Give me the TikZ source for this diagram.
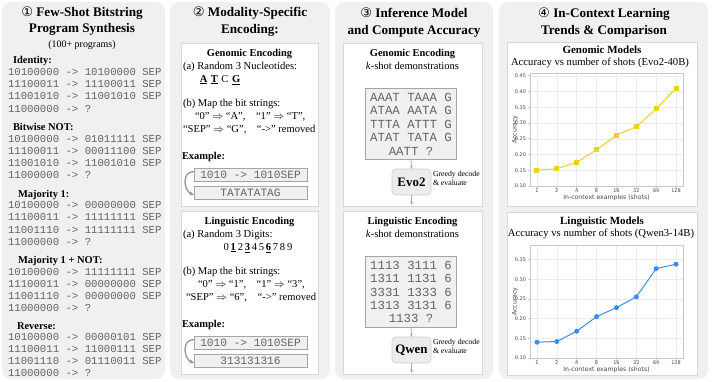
\documentclass[tikz,border=0pt]{standalone}
\usepackage{fontspec}
\setmainfont{Liberation Serif}
\newfontfamily\monof{Liberation Mono}
\newfontfamily\sansf{DejaVu Sans}
\newfontfamily\circf{DejaVu Sans}
\usetikzlibrary{arrows.meta}
\definecolor{panelgray}{RGB}{240,240,240}
\definecolor{boxline}{RGB}{216,216,216}
\definecolor{monofill}{RGB}{240,240,240}
\definecolor{monoline}{RGB}{165,165,165}
\definecolor{monotext}{RGB}{100,100,100}
\definecolor{arrowgray}{RGB}{170,170,170}
\definecolor{curvegray}{RGB}{150,150,150}
\definecolor{gridgray}{RGB}{236,236,236}
\definecolor{framegray}{RGB}{200,200,200}
\definecolor{genyellow}{RGB}{240,205,40}
\definecolor{lingblue}{RGB}{60,140,230}
\definecolor{modelfill}{RGB}{236,236,236}
\definecolor{modelline}{RGB}{205,205,205}
\definecolor{ticktext}{RGB}{70,70,70}
\newcommand\ulb[1]{\underline{\textbf{#1}}}
\begin{document}
\begin{tikzpicture}[x=1bp,y=-1bp,
  every node/.style={inner sep=0pt, outer sep=0pt},
  panel/.style={fill=panelgray, rounded corners=9bp},
  wbox/.style={fill=white, draw=boxline, line width=0.8bp},
  ttl/.style={font=\fontsize{13.2}{15}\selectfont\bfseries},
  hdr/.style={font=\fontsize{10.5}{12}\selectfont\bfseries, text height=7bp, text depth=0pt},
  body/.style={font=\fontsize{10.6}{12}\selectfont, text height=6.5bp, text depth=0pt},
  mono/.style={font=\monof\fontsize{10.7}{12}\selectfont, text=monotext, text height=6.4bp, text depth=0pt},
  exbox/.style={draw=monoline, fill=monofill, line width=0.6bp, minimum width=113bp, minimum height=13bp, font=\monof\fontsize{11.2}{12}\selectfont, text=monotext},
  demobox/.style={draw=monoline, fill=monofill, line width=0.6bp, minimum width=91bp, minimum height=71bp, align=center, font=\monof\fontsize{12.4}{13.5}\selectfont, text=monotext},
  model/.style={draw=modelline, fill=modelfill, line width=0.6bp, rounded corners=4bp, minimum width=39bp, minimum height=26bp, font=\fontsize{13}{14}\selectfont\bfseries},
  smalltxt/.style={font=\fontsize{7.8}{9}\selectfont, align=left},
  flow/.style={draw=arrowgray, line width=0.8bp, -{Stealth[length=3.5bp,width=3bp]}},
  curv/.style={draw=curvegray, line width=1.3bp, -{Stealth[length=5bp,width=4.5bp]}},
  gridl/.style={draw=gridgray, line width=0.5bp},
  frm/.style={draw=framegray, line width=0.7bp},
  ytick/.style={font=\sansf\fontsize{5}{6}\selectfont, text=ticktext, anchor=east},
  xtick/.style={font=\sansf\fontsize{5}{6}\selectfont, text=ticktext, anchor=north},
  axlab/.style={font=\sansf\fontsize{6.2}{7}\selectfont, text=ticktext},
  gmark/.style={fill=genyellow, minimum size=5bp, rectangle},
  lmark/.style={fill=lingblue, minimum size=5bp, circle},
]
\useasboundingbox (0,0) rectangle (718,381);

% ---------- panels ----------
\fill[panel] (2,2) rectangle (165,379);
\fill[panel] (170,2) rectangle (330,379);
\fill[panel] (335,2) rectangle (493,379);
\fill[panel] (499,2) rectangle (708,379);

% ---------- panel 1 ----------
\node[ttl] (t1a) at (82,13) {{\circf\mdseries ①} Few-Shot Bitstring};
\node[ttl] (t1b) at (82,29.5) {Program Synthesis};
\node[font=\fontsize{10}{12}\selectfont] (t1c) at (82,45) {(100+ programs)};

\node[hdr,anchor=west] (h1) at (13,59.5) {Identity:};
\node[mono,anchor=west] (r11) at (8,72) {10100000 -> 10100000 SEP};
\node[mono,anchor=west] (r12) at (8,84.3) {11100011 -> 11100011 SEP};
\node[mono,anchor=west] (r13) at (8,96.6) {11001010 -> 11001010 SEP};
\node[mono,anchor=west] (r14) at (8,108.9) {11000000 -> ?};

\node[hdr,anchor=west] (h2) at (13,126.5) {Bitwise NOT:};
\node[mono,anchor=west] (r21) at (8,139) {10100000 -> 01011111 SEP};
\node[mono,anchor=west] (r22) at (8,151.2) {11100011 -> 00011100 SEP};
\node[mono,anchor=west] (r23) at (8,163.4) {11001010 -> 11001010 SEP};
\node[mono,anchor=west] (r24) at (8,175.6) {11000000 -> ?};

\node[hdr,anchor=west] (h3) at (18,193.5) {Majority 1:};
\node[mono,anchor=west] (r31) at (8,205.5) {10100000 -> 00000000 SEP};
\node[mono,anchor=west] (r32) at (8,217.7) {11100011 -> 11111111 SEP};
\node[mono,anchor=west] (r33) at (8,229.9) {11001110 -> 11111111 SEP};
\node[mono,anchor=west] (r34) at (8,242.1) {11000000 -> ?};

\node[hdr,anchor=west] (h4) at (18,260) {Majority 1 + NOT:};
\node[mono,anchor=west] (r41) at (8,272) {10100000 -> 11111111 SEP};
\node[mono,anchor=west] (r42) at (8,284.2) {11100011 -> 00000000 SEP};
\node[mono,anchor=west] (r43) at (8,296.4) {11001110 -> 00000000 SEP};
\node[mono,anchor=west] (r44) at (8,308.6) {11000000 -> ?};

\node[hdr,anchor=west] (h5) at (17,325.5) {Reverse:};
\node[mono,anchor=west] (r51) at (8,337.5) {10100000 -> 00000101 SEP};
\node[mono,anchor=west] (r52) at (8,349.4) {11100011 -> 11000111 SEP};
\node[mono,anchor=west] (r53) at (8,361.3) {11001110 -> 01110011 SEP};
\node[mono,anchor=west] (r54) at (8,373.2) {11000000 -> ?};

% ---------- panel 2 ----------
\node[ttl] (t2a) at (250,13) {{\circf\mdseries ②} Modality-Specific};
\node[ttl] (t2b) at (250,30) {Encoding:};

\draw[wbox] (181,43) rectangle (318,206);
\draw[wbox] (181,211) rectangle (318,374);

\node[hdr] (g2t) at (249.5,53) {Genomic Encoding};
\node[body,anchor=west] (g2a) at (183,66) {(a) Random 3 Nucleotides:};
\node[body] (g2n) at (220,79) {\ulb{A}\,\,\ulb{T}\,\,C\,\,\ulb{G}};
\node[body,anchor=west] (g2b) at (183,103) {(b) Map the bit strings:};
\node[body,anchor=west] (g2c) at (195,116) {“0” $\Rightarrow$ “A”,\quad “1” $\Rightarrow$ “T”,};
\node[body,anchor=west] (g2d) at (183,129) {“SEP” $\Rightarrow$ “G”,\quad “->” removed};
\node[hdr,anchor=west] (g2e) at (182,156) {Example:};
\node[exbox] (ge1) at (250.5,174.5) {1010 -> 1010SEP};
\node[exbox] (ge2) at (250.5,193) {TATATATAG};
\draw[curv] ([yshift=3bp]ge1.west) .. controls +(-13,0) and +(-10,-4) .. ([yshift=-2bp]ge2.west);

\node[hdr] (l2t) at (249.5,221) {Linguistic Encoding};
\node[body,anchor=west] (l2a) at (183,234) {(a) Random 3 Digits:};
\node[body] (l2n) at (258,247) {0\,\ulb{1}\,2\,\ulb{3}\,4\,5\,\ulb{6}\,7\,8\,9};
\node[body,anchor=west] (l2b) at (183,271) {(b) Map the bit strings:};
\node[body,anchor=west] (l2c) at (198,284) {“0” $\Rightarrow$ “1”,\quad “1” $\Rightarrow$ “3”,};
\node[body,anchor=west] (l2d) at (186,297) {“SEP” $\Rightarrow$ “6”,\quad “->” removed};
\node[hdr,anchor=west] (l2e) at (182,324) {Example:};
\node[exbox] (le1) at (250.5,342.5) {1010 -> 1010SEP};
\node[exbox] (le2) at (250.5,361) {313131316};
\draw[curv] ([yshift=3bp]le1.west) .. controls +(-13,0) and +(-10,-4) .. ([yshift=-2bp]le2.west);

% ---------- panel 3 ----------
\node[ttl] (t3a) at (414,13) {{\circf\mdseries ③} Inference Model};
\node[ttl] (t3b) at (414,31) {and Compute Accuracy};

\draw[wbox] (343,43) rectangle (482,206);
\draw[wbox] (343,211) rectangle (482,374);

\node[hdr] (g3t) at (412.5,53) {Genomic Encoding};
\node[body] (g3k) at (412.5,66) {\textit{k}-shot demonstrations};
\node[demobox] (gdemo) at (411,124) {AAAT TAAA G\\ATAA AATA G\\TTTA ATTT G\\ATAT TATA G\\AATT ?};
\node[model] (evo) at (411.5,182) {Evo2};
\node[smalltxt,anchor=west] (gnote) at (433,178) {Greedy decode\\\& evaluate};
\coordinate (gend) at (411.5,205);
\draw[flow] (gdemo.south) -- (evo.north);
\draw[flow] (evo.south) -- (gend);

\node[hdr] (l3t) at (412.5,221) {Linguistic Encoding};
\node[body] (l3k) at (412.5,234) {\textit{k}-shot demonstrations};
\node[demobox] (ldemo) at (411,292) {1113 3111 6\\1311 1131 6\\3331 1333 6\\1313 3131 6\\1133 ?};
\node[model] (qwen) at (411.5,350) {Qwen};
\node[smalltxt,anchor=west] (lnote) at (433,346) {Greedy decode\\\& evaluate};
\coordinate (lend) at (411.5,373);
\draw[flow] (ldemo.south) -- (qwen.north);
\draw[flow] (qwen.south) -- (lend);

% ---------- panel 4 ----------
\node[ttl] (t4a) at (604,14) {{\circf\mdseries ④} In-Context Learning};
\node[ttl] (t4b) at (604,31) {Trends \& Comparison};

\draw[wbox] (507,42) rectangle (697,206);
\draw[wbox] (507,212) rectangle (697,375);

\node[font=\fontsize{11}{12}\selectfont\bfseries] (g4t) at (602,50) {Genomic Models};
\node[font=\fontsize{10.7}{12}\selectfont] (g4s) at (600,63) {Accuracy vs number of shots (Evo2-40B)};
\node[font=\fontsize{11}{12}\selectfont\bfseries] (l4t) at (602,222) {Linguistic Models};
\node[font=\fontsize{10.7}{12}\selectfont] (l4s) at (601,234) {Accuracy vs number of shots (Qwen3-14B)};

% grids
\foreach \x in {536.95,556.82,576.69,596.56,616.43,636.30,656.17,676.04} {
  \draw[gridl] (\x,73) -- (\x,186);
  \draw[gridl] (\x,245) -- (\x,358);
  \draw[frm] (\x,186) -- (\x,188.5);
  \draw[frm] (\x,358) -- (\x,360.5);
}
\foreach \y in {170.25,154.5,138.75,123,107.25,91.5,75.75} \draw[gridl] (530,\y) -- (683,\y);
\foreach \y in {338.3,318.6,298.9,279.2,259.5} \draw[gridl] (530,\y) -- (683,\y);
\draw[frm] (530,73) rectangle (683,186);
\draw[frm] (530,245) rectangle (683,358);

% y ticks
\foreach \v/\y [count=\i] in {0.10/186,0.15/170.25,0.20/154.5,0.25/138.75,0.30/123,0.35/107.25,0.40/91.5,0.45/75.75} {
  \draw[frm] (527.5,\y) -- (530,\y);
  \node[ytick] (gy\i) at (526,\y) {\v};
}
\foreach \v/\y [count=\i] in {0.10/358,0.15/338.3,0.20/318.6,0.25/298.9,0.30/279.2,0.35/259.5} {
  \draw[frm] (527.5,\y) -- (530,\y);
  \node[ytick] (ly\i) at (526,\y) {\v};
}
% x ticks
\foreach \x/\l [count=\i] in {536.95/1,556.82/2,576.69/4,596.56/8,616.43/16,636.30/32,656.17/64,676.04/128} {
  \node[xtick] (gx\i) at (\x,189) {\l};
  \node[xtick] (lx\i) at (\x,361) {\l};
}
\node[axlab] (gxl) at (606.5,198) {In-context examples (shots)};
\node[axlab] (lxl) at (606.5,369.5) {In-context examples (shots)};
\node[axlab,rotate=90] (gyl) at (515,129.5) {Accuracy};
\node[axlab,rotate=90] (lyl) at (515,301.5) {Accuracy};

% data genomic
\foreach \x/\y [count=\i] in {536.95/170.2,556.82/168.7,576.69/162.4,596.56/149.8,616.43/135,636.30/126.8,656.17/108.8,676.04/88.4}
  \coordinate (g\i) at (\x,\y);
\draw[genyellow, line width=1bp] (g1) -- (g2) -- (g3) -- (g4) -- (g5) -- (g6) -- (g7) -- (g8);
\foreach \i in {1,...,8} \node[gmark] (gm\i) at (g\i) {};

% data linguistic
\foreach \x/\y [count=\i] in {536.95/342.2,556.82/341.5,576.69/331.2,596.56/316.6,616.43/307.6,636.30/296.9,656.17/268.6,676.04/264.2}
  \coordinate (l\i) at (\x,\y);
\draw[lingblue, line width=1bp] (l1) -- (l2) -- (l3) -- (l4) -- (l5) -- (l6) -- (l7) -- (l8);
\foreach \i in {1,...,8} \node[lmark] (lm\i) at (l\i) {};
\end{tikzpicture}
\end{document}
